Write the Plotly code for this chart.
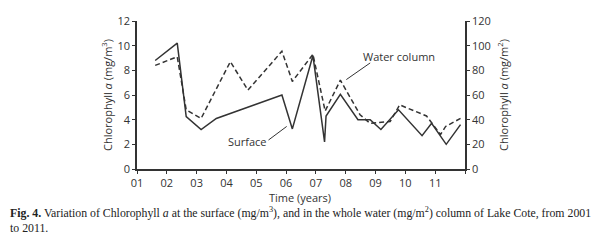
import plotly.graph_objects as go

# Time (years since 2000) and values
surface_t = [1.61, 2.35, 2.65, 3.15, 3.66, 5.86, 6.21, 6.90, 7.29, 7.34, 7.82, 8.41, 8.82, 9.18, 9.77, 10.56, 10.88, 11.37, 11.85]
surface_v = [8.8, 10.2, 4.25, 3.2, 4.1, 6.0, 3.25, 9.2, 2.2, 4.3, 6.05, 4.0, 4.0, 3.2, 4.8, 2.7, 3.7, 2.0, 3.6]

water_t = [1.61, 2.35, 2.65, 3.15, 4.13, 4.72, 5.86, 6.21, 6.90, 7.31, 7.82, 8.48, 8.82, 9.49, 9.81, 10.71, 11.18, 11.35, 11.85]
water_v = [84, 91, 48, 41, 87, 64, 95.5, 71, 93, 47, 72, 44, 37, 38.5, 52, 43, 28, 34.5, 41]

x_tickvals = [1, 2, 3, 4, 5, 6, 7, 8, 9, 10, 11, 12]
x_ticktext = ["01", "02", "03", "04", "05", "06", "07", "08", "09", "10", "11", ""]
left_ticks = [0, 2, 4, 6, 8, 10, 12]
right_ticks = [0, 20, 40, 60, 80, 100, 120]

ink = "#333333"
tickfont = dict(family="Open Sans, Noto Sans, sans-serif", size=11, color=ink)

fig = go.Figure()
fig.add_trace(go.Scatter(x=surface_t, y=surface_v, mode="lines",
                         line=dict(color=ink, width=1.5), yaxis="y", showlegend=False))
fig.add_trace(go.Scatter(x=water_t, y=water_v, mode="lines",
                         line=dict(color=ink, width=1.5, dash="5px,3px"), yaxis="y2", showlegend=False))

# page body adds an 8px margin, so the figure is 8px smaller and shifted
fig.update_layout(
    width=603, height=238,
    margin=dict(l=129, r=146, t=13, b=77, autoexpand=False),
    paper_bgcolor="white", plot_bgcolor="white",
    xaxis=dict(range=[1, 12], tickvals=x_tickvals, ticktext=x_ticktext, automargin=False,
               showgrid=False, zeroline=False, showline=True, linecolor=ink, linewidth=1.5,
               ticks="outside", ticklen=3, tickcolor=ink, tickfont=tickfont),
    yaxis=dict(range=[0, 12], tickvals=left_ticks, showgrid=False, zeroline=False, automargin=False,
               showline=True, linecolor=ink, linewidth=1.5, ticks="outside", ticklen=3,
               tickcolor=ink, tickfont=tickfont),
    yaxis2=dict(range=[0, 120], tickvals=right_ticks, overlaying="y", side="right", automargin=False,
                showgrid=False, zeroline=False, showline=True, linecolor=ink, linewidth=1.5,
                ticks="outside", ticklen=3, tickcolor=ink, tickfont=tickfont),
)

# Axis titles
fig.add_annotation(xref="paper", yref="paper", x=0.497, y=0, yshift=-19, text="Time (years)",
                   showarrow=False, font=tickfont, xanchor="center", yanchor="top")
fig.add_annotation(xref="paper", yref="paper", x=-0.0915, y=0.5, textangle=-90,
                   text="Chlorophyll <i>a</i> (mg/m<sup>3</sup>)",
                   showarrow=False, font=tickfont, xanchor="center", yanchor="middle")
fig.add_annotation(xref="paper", yref="paper", x=1.116, y=0.5, textangle=-90,
                   text="Chlorophyll <i>a</i> (mg/m<sup>2</sup>)",
                   showarrow=False, font=tickfont, xanchor="center", yanchor="middle")

# Callout labels with leader lines
fig.add_annotation(x=9.77, y=9.1, xref="x", yref="y", text="Water column", showarrow=False,
                   font=tickfont)
fig.add_shape(type="line", xref="x", yref="y", x0=8.82, y0=8.6, x1=8.02, y1=7.25,
              line=dict(color=ink, width=1))
fig.add_annotation(x=4.71, y=2.23, xref="x", yref="y", text="Surface", showarrow=False,
                   font=tickfont)
fig.add_shape(type="line", xref="x", yref="y", x0=5.41, y0=2.35, x1=6.02, y1=3.45,
              line=dict(color=ink, width=1))

# Caption
cap_font = dict(family="Liberation Serif, Times New Roman, serif", size=11.8, color="#222222")
fig.add_annotation(xref="paper", yref="paper", x=-129/328, y=0, yshift=-34, xanchor="left", yanchor="top",
                   align="left", showarrow=False, font=cap_font,
                   text="<b>Fig. 4.</b> Variation of Chlorophyll <i>a</i> at the surface (mg/m<sup>3</sup>), and in the whole water (mg/m<sup>2</sup>) column of Lake Cote, from 2001<br>to 2011.")

fig.write_html("out.html")
